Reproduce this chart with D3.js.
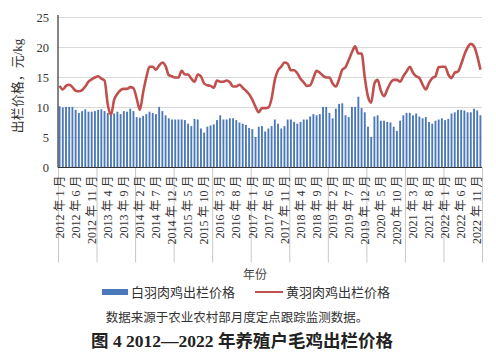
<!DOCTYPE html>
<html><head><meta charset="utf-8">
<script src="https://cdn.jsdelivr.net/npm/d3@7/dist/d3.min.js"></script>
<style>
body{margin:0;background:#fff;}
svg{display:block;}
text{font-family:"Liberation Serif","Noto Sans CJK SC",serif;}
</style></head>
<body>
<svg id="c" width="496" height="359"></svg>
<script>
// Monthly data, Jan 2012 – Dec 2022 (132 months)
const whiteFeather = [
 10.2,10.0,10.1,10.1,10.1,9.6,9.1,9.4,9.7,9.3,9.3,9.4,
 9.6,9.7,9.4,9.1,8.9,9.0,9.3,8.9,9.4,9.3,9.8,9.4,
 8.4,8.3,8.6,8.9,9.3,9.1,8.9,10.1,9.4,8.7,8.2,8.0,
 8.0,8.0,8.0,7.9,7.3,6.9,8.1,8.0,6.5,5.8,6.8,7.0,
 7.2,7.9,8.7,8.0,8.0,8.2,8.2,7.9,7.5,7.3,7.1,6.6,
 6.4,5.1,6.8,6.9,6.0,6.5,6.9,8.0,7.3,6.5,6.9,8.0,
 8.0,7.6,7.3,7.6,8.0,8.0,8.5,8.9,8.7,8.9,10.1,10.1,
 9.1,8.2,9.8,10.6,10.7,8.7,8.4,10.1,10.1,11.8,9.9,9.2,
 6.8,5.1,8.5,8.7,7.8,7.8,7.6,7.5,6.8,6.1,7.8,8.7,
 9.1,9.1,8.7,9.0,8.5,8.2,8.4,7.6,7.3,7.8,8.0,8.2,
 7.9,8.1,9.0,9.2,9.6,9.6,9.5,9.2,9.2,9.8,9.5,8.7
];
const yellowFeather = [
 13.6,13.0,13.6,13.8,13.4,12.8,12.7,12.9,13.5,14.3,14.7,15.0,
 15.2,14.8,14.5,10.5,8.8,11.3,12.3,12.9,13.1,13.1,13.4,13.2,
 11.5,9.6,12.5,15.0,16.8,16.8,16.3,17.0,17.5,16.9,15.4,15.2,
 15.0,15.0,16.1,15.5,15.5,14.8,14.3,15.5,15.2,14.0,13.7,13.6,
 13.3,14.5,14.3,14.3,14.5,14.2,13.5,13.5,13.8,13.3,12.8,12.2,
 11.3,10.1,9.2,9.9,9.9,10.0,11.5,14.6,16.2,16.8,17.5,17.3,
 16.2,16.2,15.7,14.8,14.2,13.6,13.7,14.9,16.1,15.8,15.3,15.0,
 15.0,14.0,13.5,14.7,16.3,16.7,17.9,19.2,20.2,19.0,19.0,15.0,
 11.8,10.8,14.0,14.6,12.8,11.9,13.0,14.1,14.6,14.6,14.3,15.2,
 16.0,16.8,15.8,15.2,14.9,13.8,13.0,14.1,14.9,15.2,16.7,16.8,
 16.8,15.5,14.9,15.8,16.0,17.2,18.8,20.0,20.6,20.2,18.6,16.3
];
const xTickLabels = [
 "2012 年 1 月","2012 年 6 月","2012 年 11 月","2013 年 4 月","2013 年 9 月",
 "2014 年 2 月","2014 年 7 月","2014 年 12 月","2015 年 5 月","2015 年 10 月",
 "2016 年 3 月","2016 年 8 月","2017 年 1 月","2017 年 6 月","2017 年 11 月",
 "2018 年 4 月","2018 年 9 月","2019 年 2 月","2019 年 7 月","2019 年 12 月",
 "2020 年 5 月","2020 年 10 月","2021 年 3 月","2021 年 8 月","2022 年 1 月",
 "2022 年 6 月","2022 年 11 月"
];
const labelStep = 5;
const yTicks = [0,5,10,15,20,25];
const seriesNames = ["白羽肉鸡出栏价格","黄羽肉鸡出栏价格"];
const yTitle = "出栏价格，元/kg";
const xTitle = "年份";
const note = "数据来源于农业农村部月度定点跟踪监测数据。";
const caption = "图 4 2012—2022 年养殖户毛鸡出栏价格";

const svg = d3.select("#c");
const L = 58, R = 482, T = 17.5, B = 167.5;
const n = whiteFeather.length;
const idx = d3.range(n);
const x = d3.scaleBand().domain(idx).range([L, R]).paddingInner(0.42).paddingOuter(0.2);
const xLin = d3.scaleLinear().domain([0, n]).range([L, R]);
const y = d3.scaleLinear().domain([0, 25]).range([B, T]);

// gridlines
svg.append("g").selectAll("line").data(yTicks.filter(d=>d>0)).join("line")
  .attr("x1", L).attr("x2", R).attr("y1", d=>y(d)).attr("y2", d=>y(d))
  .attr("stroke", "#d9d9d9").attr("stroke-width", 1);

// year separator ticks
const yearBounds = d3.range(0, n + 1, 12);
svg.append("g").attr("transform", `translate(0,${B})`)
  .call(d3.axisBottom(xLin).tickValues(yearBounds).tickSize(95).tickFormat(""))
  .call(g => g.select(".domain").remove())
  .call(g => g.selectAll("line").attr("stroke", "#c8c8c8"));

// bars
svg.append("g").selectAll("rect").data(idx).join("rect")
  .attr("x", i => x(i)).attr("width", x.bandwidth())
  .attr("y", i => y(whiteFeather[i])).attr("height", i => B - y(whiteFeather[i]))
  .attr("fill", "#4a78b8");

// line
const line = d3.line().x(i => x(i) + x.bandwidth()/2).y(i => y(yellowFeather[i])).curve(d3.curveMonotoneX);
svg.append("path").datum(idx).attr("d", line)
  .attr("fill", "none").attr("stroke", "#c0504d").attr("stroke-width", 2.6)
  .attr("stroke-linejoin", "round");

// axes lines
svg.append("line").attr("x1", L).attr("x2", L).attr("y1", 15).attr("y2", B).attr("stroke", "#333").attr("stroke-width", 1.2);
svg.append("line").attr("x1", L).attr("x2", R).attr("y1", B).attr("y2", B).attr("stroke", "#333").attr("stroke-width", 1.2);

// y axis labels
svg.append("g").attr("transform", `translate(${L},0)`)
  .call(d3.axisLeft(y).tickValues(yTicks).tickSize(0).tickPadding(9))
  .call(g => g.select(".domain").remove())
  .call(g => g.selectAll("text").attr("font-size", 12.5).attr("fill", "#333")
        .attr("font-family", "'Liberation Serif',serif"));

// x tick labels
const labelIdx = xTickLabels.map((d, k) => k * labelStep);
const xa = d3.axisBottom(x).tickValues(labelIdx).tickSize(0)
  .tickFormat(i => xTickLabels[i / labelStep]);
svg.append("g").attr("transform", `translate(0,${B})`).call(xa)
  .call(g => g.select(".domain").remove())
  .call(g => g.selectAll("text")
     .attr("transform", "rotate(-90)")
     .attr("x", -8).attr("y", 0).attr("dy", "0.35em")
     .attr("text-anchor", "end")
     .attr("font-size", 12).attr("fill", "#333"));

// y title
svg.append("text").attr("transform", "translate(17,86) rotate(-90)")
  .attr("text-anchor", "middle").attr("dy", "0.35em")
  .attr("font-size", 13).attr("fill", "#333").text(yTitle);

// x title
svg.append("text").attr("x", 255).attr("y", 275).attr("text-anchor", "middle")
  .attr("dy", "0.35em").attr("font-size", 12).attr("fill", "#444").text(xTitle);

// legend
const lg = svg.append("g");
lg.append("rect").attr("x", 102).attr("y", 289).attr("width", 26).attr("height", 6).attr("fill", "#4a78b8");
lg.append("text").attr("x", 131).attr("y", 292).attr("dy", "0.35em").attr("font-size", 13).attr("fill", "#333").text(seriesNames[0]);
lg.append("line").attr("x1", 255).attr("x2", 283).attr("y1", 292).attr("y2", 292).attr("stroke", "#c0504d").attr("stroke-width", 2);
lg.append("text").attr("x", 286).attr("y", 292).attr("dy", "0.35em").attr("font-size", 13).attr("fill", "#333").text(seriesNames[1]);

// note and caption
svg.append("text").attr("x", 237).attr("y", 318).attr("text-anchor", "middle").attr("dy", "0.35em")
  .attr("font-size", 12.5).attr("fill", "#333").text(note);
svg.append("text").attr("x", 242).attr("y", 341).attr("text-anchor", "middle").attr("dy", "0.35em")
  .attr("font-size", 17.5).attr("font-weight", "bold").attr("fill", "#222").text(caption);
</script>
</body></html>
